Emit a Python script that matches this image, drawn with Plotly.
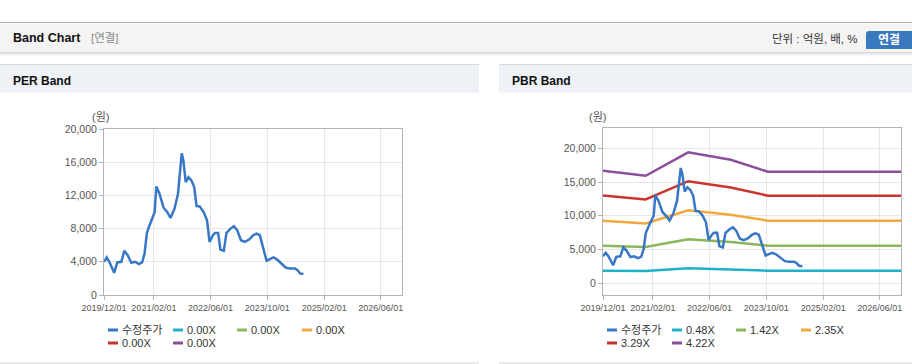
import plotly.graph_objects as go

W, H = 912, 364

# ---------------- data ----------------
price_dates = [
    "2019-12-01", "2019-12-24", "2020-01-16", "2020-02-26", "2020-03-24", "2020-04-28",
    "2020-05-23", "2020-06-21", "2020-07-23", "2020-08-24", "2020-09-25", "2020-10-23",
    "2020-11-13", "2020-12-03", "2020-12-26", "2021-01-24", "2021-02-08", "2021-02-22",
    "2021-03-21", "2021-04-25", "2021-05-26", "2021-06-24", "2021-07-28", "2021-08-27",
    "2021-09-10", "2021-09-28", "2021-10-12", "2021-11-01", "2021-11-24", "2021-12-20",
    "2022-01-13", "2022-02-02", "2022-03-01", "2022-04-04", "2022-05-03", "2022-05-25",
    "2022-06-23", "2022-07-10", "2022-08-06", "2022-08-26", "2022-09-24", "2022-10-17",
    "2022-11-21", "2022-12-19", "2023-01-17", "2023-02-18", "2023-03-23", "2023-04-29",
    "2023-06-03", "2023-07-01", "2023-07-30", "2023-08-28", "2023-09-26", "2023-10-25",
    "2023-11-23", "2023-12-21", "2024-02-03", "2024-03-10", "2024-04-14", "2024-05-27",
    "2024-06-17", "2024-07-09", "2024-08-07",
]
price_values = [
    4000, 4520, 4000, 2680, 3920, 4000,
    5320, 4800, 3880, 4000, 3720, 3920,
    5000, 7480, 8400, 9400, 10000, 13080,
    12200, 10520, 10000, 9280, 10400, 12200,
    14200, 17080, 16200, 13600, 14200, 13800,
    13000, 10720, 10680, 10000, 9000, 6400,
    7200, 7480, 7480, 5480, 5320, 7480,
    8000, 8280, 7800, 6600, 6400, 6680,
    7200, 7400, 7200, 5600, 4120, 4320,
    4520, 4320, 3720, 3280, 3200, 3200,
    3000, 2600, 2520,
]

band_dates = ["2019-12-01", "2020-12-01", "2021-12-01", "2022-06-01",
              "2022-12-01", "2023-10-15", "2026-12-01"]

per_band_names = ["0.00X", "0.00X", "0.00X", "0.00X", "0.00X"]
per_band_values = [None, None, None, None, None, None, None]  # no EPS-based band drawn

pbr_band_names = ["0.48X", "1.42X", "2.35X", "3.29X", "4.22X"]
pbr_048 = [1870, 1810, 2210, 2140, 2070, 1870, 1870]
pbr_142 = [5570, 5380, 6530, 6330, 6130, 5570, 5570]
pbr_235 = [9280, 8870, 10820, 10480, 10140, 9280, 9280]
pbr_329 = [12990, 12420, 15120, 14670, 14200, 12980, 12980]
pbr_422 = [16680, 15920, 19400, 18830, 18300, 16530, 16530]

price_name = "수정주가"

x_tickvals = ["2019-12-01", "2021-02-01", "2022-06-01", "2023-10-01", "2025-02-01", "2026-06-01"]
x_ticktext = ["2019/12/01", "2021/02/01", "2022/06/01", "2023/10/01", "2025/02/01", "2026/06/01"]
x_range = ["2019-12-01", "2026-12-01"]

per_y_tickvals = [0, 4000, 8000, 12000, 16000, 20000]
per_y_ticktext = ["0", "4,000", "8,000", "12,000", "16,000", "20,000"]
pbr_y_tickvals = [0, 5000, 10000, 15000, 20000]
pbr_y_ticktext = ["0", "5,000", "10,000", "15,000", "20,000"]

# ---------------- styles ----------------
BLUE = "#3877c6"
band_colors = ["#1fb1c9", "#8bb65c", "#f2a83c", "#c9342f", "#8b4f9b"]
FONT = "Liberation Sans, Noto Sans CJK KR, sans-serif"
GRID = "#e6e6e6"
AXLINE = "#b4b4b4"
TICKC = "#555555"


def px(x):
    return x / W


def py(y):
    return 1 - y / H


fig = go.Figure()

# PER chart
fig.add_trace(go.Scatter(x=price_dates, y=price_values, name=price_name, mode="lines",
                         line=dict(color=BLUE, width=2.5), xaxis="x", yaxis="y", showlegend=False))
for nm, col in zip(per_band_names, band_colors):
    fig.add_trace(go.Scatter(x=band_dates, y=per_band_values, name=nm, mode="lines",
                             line=dict(color=col, width=2.5), xaxis="x", yaxis="y", showlegend=False))

# PBR chart
for nm, col, vals in zip(pbr_band_names, band_colors, [pbr_048, pbr_142, pbr_235, pbr_329, pbr_422]):
    fig.add_trace(go.Scatter(x=band_dates, y=vals, name=nm, mode="lines",
                             line=dict(color=col, width=2.5), xaxis="x2", yaxis="y2", showlegend=False))
fig.add_trace(go.Scatter(x=price_dates, y=price_values, name=price_name, mode="lines",
                         line=dict(color=BLUE, width=2.5), xaxis="x2", yaxis="y2", showlegend=False))

xcommon = dict(type="date", range=x_range, tickvals=x_tickvals, ticktext=x_ticktext, tickangle=0,
               showgrid=True, gridcolor=GRID, gridwidth=1, showline=True, linecolor=AXLINE,
               linewidth=1, mirror=True, ticks="outside", ticklen=4, tickcolor=AXLINE,
               tickfont=dict(family=FONT, size=9, color=TICKC), zeroline=False, fixedrange=True,
               automargin=False)
ycommon = dict(showgrid=True, gridcolor=GRID, gridwidth=1, showline=True, linecolor=AXLINE,
               linewidth=1, mirror=True, ticks="outside", ticklen=4, tickcolor=AXLINE,
               tickfont=dict(family=FONT, size=10.5, color=TICKC), zeroline=False, fixedrange=True,
               automargin=False)

fig.update_layout(
    width=W, height=H, autosize=False, margin=dict(l=0, r=0, t=0, b=0, pad=0),
    paper_bgcolor="white", plot_bgcolor="white", showlegend=False,
    font=dict(family=FONT, color="#333333"),
    xaxis=dict(domain=[px(104), px(402)], anchor="y", **xcommon),
    yaxis=dict(domain=[py(295), py(129)], anchor="x", range=[0, 20000],
               tickvals=per_y_tickvals, ticktext=per_y_ticktext, **ycommon),
    xaxis2=dict(domain=[px(603), px(901)], anchor="y2", **xcommon),
    yaxis2=dict(domain=[py(295.3), py(128.3)], anchor="x2", range=[-1780, 22960],
                tickvals=pbr_y_tickvals, ticktext=pbr_y_ticktext, **ycommon),
)

shapes = []
annos = []


def rect(x0, y0, x1, y1, fill, line=None):
    shapes.append(dict(type="rect", xref="paper", yref="paper", x0=px(x0), x1=px(x1),
                       y0=py(y1), y1=py(y0), fillcolor=fill, layer="below",
                       line=dict(width=0) if line is None else line))


def hline(x0, x1, y, color, width=1):
    shapes.append(dict(type="line", xref="paper", yref="paper", x0=px(x0), x1=px(x1),
                       y0=py(y), y1=py(y), line=dict(color=color, width=width)))


def text(x, y, s, size=12, color="#333333", bold=False, anchor="left", family=FONT):
    annos.append(dict(xref="paper", yref="paper", x=px(x), y=py(y), text=("<b>%s</b>" % s) if bold else s,
                      showarrow=False, xanchor=anchor, yanchor="middle",
                      font=dict(family=family, size=size, color=color)))


# page header bar
rect(0, 22.5, 912, 53, "#f4f4f4")
hline(0, 912, 22.5, "#b3b3b3", 1.2)
hline(0, 912, 53, "#c4c4c4", 1)
hline(0, 912, 54, "#e2e2e2", 1)
hline(0, 912, 55, "#f2f2f2", 1)
text(11, 38.5, "Band Chart", size=12.5, color="#111111", bold=True)
text(89, 38.5, "[연결]", size=11.5, color="#8a8a8a")
text(770, 38.5, "단위 : 억원, 배, %", size=11.5, color="#333333")
# button
shapes.append(dict(type="path", xref="paper", yref="paper",
                   path="M %f %f L %f %f L %f %f L %f %f Q %f %f %f %f L %f %f Q %f %f %f %f Z" % (
                       px(912), py(31), px(912), py(49), px(869), py(49),
                       px(866), py(49), px(866), py(46), px(866), py(46), px(866), py(34),
                       px(866), py(31), px(869), py(31)),
                   fillcolor="#3a78c0", line=dict(width=0), layer="above"))
text(889, 39.5, "연결", size=12, color="white", bold=True, anchor="center")

# panel headers
for x0, x1, title in [(0, 479, "PER Band"), (499, 912, "PBR Band")]:
    rect(x0, 64.5, x1, 92.5, "#eef2f7")
    hline(x0, x1, 64.5, "#d4d8dd", 1)
    hline(x0, x1, 363, "#d0d0d0", 1)
    text(x0 + 11, 81, title, size=12, color="#111111", bold=True)

# unit labels
text(90, 117.5, "(원)", size=11, color="#555555")
text(587, 117.5, "(원)", size=11, color="#555555")

# legends (drawn as short line swatches + labels)
legend_names = [price_name] + per_band_names
legend_cols = [BLUE] + band_colors
per_leg = [(108, 330), (173, 330), (237, 330), (302, 330), (108, 343), (173, 343)]
pbr_leg = [(607, 330), (672, 330), (736, 330), (801, 330), (607, 343), (672, 343)]
for names, pos in [(legend_names, per_leg), ([price_name] + pbr_band_names, pbr_leg)]:
    for nm, col, (lx, ly) in zip(names, legend_cols, pos):
        hline(lx, lx + 10, ly, col, 3)
        text(lx + 12, ly, nm, size=11, color="#333333")

fig.update_layout(shapes=shapes, annotations=annos)

fig.write_html("out.html", config={"displayModeBar": False, "responsive": False},
               post_script="document.body.style.margin='0';document.body.style.overflow='hidden';")
